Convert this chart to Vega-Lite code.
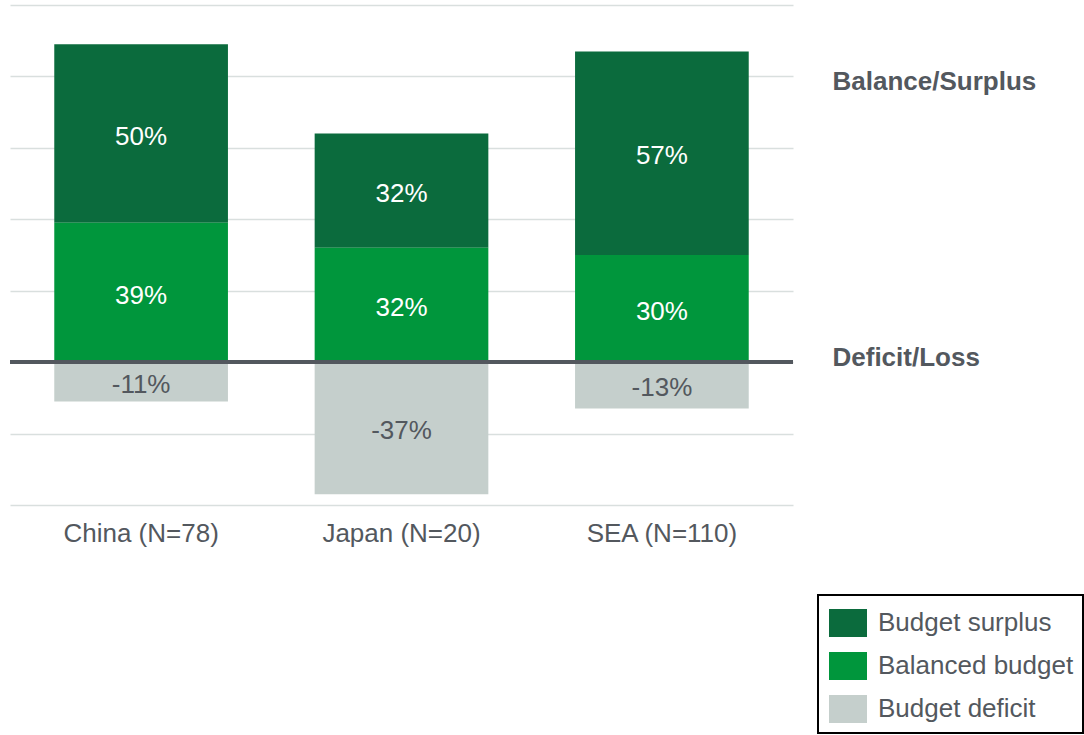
{
  "$schema": "https://vega.github.io/schema/vega-lite/v6.json",
  "width": 783,
  "height": 500,
  "autosize": {"type": "none"},
  "padding": {"left": 10, "top": 5, "right": 291, "bottom": 230},
  "background": "white",
  "config": {
    "font": "Liberation Sans",
    "view": {"stroke": null},
    "legend": {"strokeWidth": 2},
    "locale": {"number": {"decimal": ".", "thousands": ",", "grouping": [3], "currency": ["$", ""], "minus": "-"}}
  },
  "data": {
    "values": [
      {"country": "China (N=78)", "cat": "Budget surplus", "v": 0.50},
      {"country": "China (N=78)", "cat": "Balanced budget", "v": 0.39},
      {"country": "China (N=78)", "cat": "Budget deficit", "v": -0.11},
      {"country": "Japan (N=20)", "cat": "Budget surplus", "v": 0.32},
      {"country": "Japan (N=20)", "cat": "Balanced budget", "v": 0.32},
      {"country": "Japan (N=20)", "cat": "Budget deficit", "v": -0.37},
      {"country": "SEA (N=110)", "cat": "Budget surplus", "v": 0.57},
      {"country": "SEA (N=110)", "cat": "Balanced budget", "v": 0.30},
      {"country": "SEA (N=110)", "cat": "Budget deficit", "v": -0.13}
    ]
  },
  "transform": [
    {"stack": "v", "groupby": ["country"], "sort": [{"field": "cat", "order": "ascending"}], "as": ["v0", "v1"]}
  ],
  "layer": [
    {
      "mark": {"type": "bar"},
      "encoding": {
        "x": {
          "field": "country", "type": "nominal", "sort": null,
          "scale": {"paddingInner": 0.333, "paddingOuter": 0.17},
          "axis": {"title": null, "domain": false, "ticks": false, "labelAngle": 0, "labelFontSize": 26, "labelColor": "#53585e", "labelPadding": 15, "labelBaseline": "top"}
        },
        "y": {
          "field": "v0", "type": "quantitative",
          "scale": {"domain": [-0.4, 1.0], "nice": false, "zero": false},
          "axis": {"orient": "left", "title": null, "labels": false, "ticks": false, "domain": false, "grid": true, "gridColor": "#d9dfde", "gridWidth": 1.5, "values": [-0.4, -0.2, 0, 0.2, 0.4, 0.6, 0.8, 1.0]}
        },
        "y2": {"field": "v1"},
        "color": {
          "field": "cat", "type": "nominal",
          "scale": {"domain": ["Budget surplus", "Balanced budget", "Budget deficit"], "range": ["#0b6b3d", "#00963c", "#c5cfcc"]},
          "legend": {
            "title": null, "orient": "none", "legendX": 808, "legendY": 590,
            "strokeColor": "black", "padding": 9, "symbolOffset": 2,
            "symbolType": "M-1,-0.737H1V0.737H-1Z", "symbolSize": 1444, "symbolStrokeWidth": 0, "symbolOpacity": 1,
            "labelFontSize": 26, "labelColor": "#53585e", "labelOffset": 11, "rowPadding": 9, "labelLimit": 400
          }
        }
      }
    },
    {
      "mark": {"type": "text", "fontSize": 26, "align": "center", "baseline": "middle", "dy": {"expr": "(scale('y', datum.v1) - scale('y', datum.v0)) / 2 + 3"}},
      "encoding": {
        "x": {"field": "country", "type": "nominal", "sort": null},
        "y": {
          "field": "v0", "type": "quantitative",
          "axis": {"orient": "right", "title": null, "ticks": false, "domain": false, "grid": false, "values": [0.787, 0.013], "labelExpr": "datum.value > 0.5 ? 'Balance/Surplus' : 'Deficit/Loss'", "labelFontSize": 26, "labelFontWeight": "bold", "labelColor": "#53585e", "labelPadding": 39, "labelAlign": "left", "labelBaseline": "middle", "labelLimit": 400}
        },
        "text": {"field": "v", "type": "quantitative", "format": ".0%"},
        "color": {"condition": {"test": "datum.cat === 'Budget deficit'", "value": "#53585e"}, "value": "white"}
      }
    },
    {
      "mark": {"type": "rule", "color": "#53585e", "strokeWidth": 3.5},
      "encoding": {"y": {"datum": 0, "type": "quantitative", "axis": null}}
    }
  ],
  "resolve": {"axis": {"y": "independent"}}
}
